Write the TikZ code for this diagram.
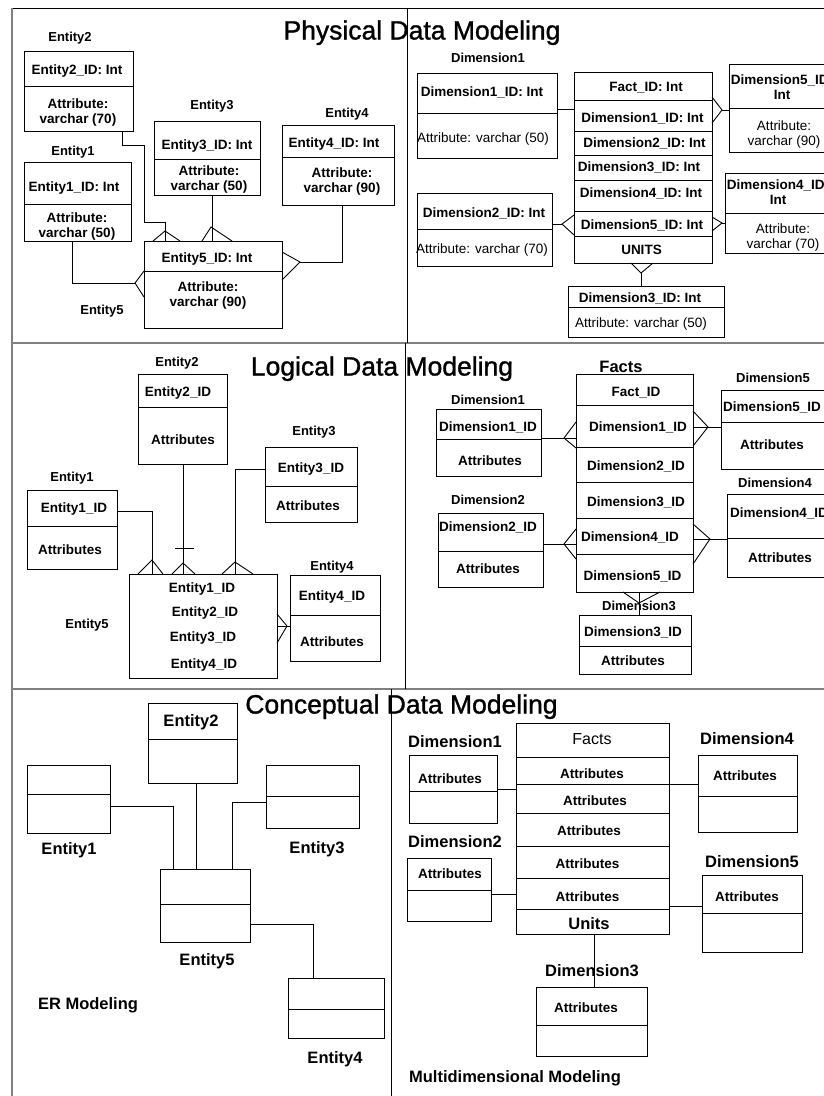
\documentclass[tikz,border=0pt]{standalone}
\usepackage{fontspec}
\setmainfont{Liberation Sans}
\newfontfamily\titlefont{Liberation Sans}[FakeBold=1.2]
% box with corners (x1,y1) and (x2,y2), y measured downwards
\newcommand\erbox[5]{\node[erbox, minimum width={(#4-#2)*1pt}, minimum height={(#5-#3)*1pt}] (#1) at ({(#2+#4)/2},{(#3+#5)/2}) {};}
% horizontal compartment rule across a box
\newcommand\hdiv[2]{\draw[ln] (#1.west |- 0,#2) -- (#1.east |- 0,#2);}
% crow's feet touching a box side: node, apex x, apex y, first end, second end
\newcommand\cfN[5]{\draw[ln] (#4,0 |- #1.north) -- (#2,#3) -- (#5,0 |- #1.north);}
\newcommand\cfS[5]{\draw[ln] (#4,0 |- #1.south) -- (#2,#3) -- (#5,0 |- #1.south);}
\newcommand\cfW[5]{\draw[ln] (0,#4 -| #1.west) -- (#2,#3) -- (0,#5 -| #1.west);}
\newcommand\cfE[5]{\draw[ln] (0,#4 -| #1.east) -- (#2,#3) -- (0,#5 -| #1.east);}
\begin{document}
\begin{tikzpicture}[x=1pt,y=-1pt,
  ln/.style={line width=0.9pt, black},
  frame/.style={line width=1.5pt, black!50},
  rule/.style={line width=0.9pt, black},
  erbox/.style={draw, line width=0.9pt, inner sep=0pt, outer sep=0pt},
  bt/.style={font=\fontsize{13.5}{15}\selectfont\bfseries, inner sep=0pt, text height=9.7pt, text depth=0pt},
  rt/.style={font=\fontsize{13.5}{15}\selectfont, inner sep=0pt, text height=9.7pt, text depth=0pt},
  bm/.style={font=\fontsize{13.5}{15}\selectfont\bfseries, inner sep=0pt, align=center},
  rm/.style={font=\fontsize{13.5}{15}\selectfont, inner sep=0pt, align=center},
  lb/.style={font=\fontsize{13}{15}\selectfont\bfseries, inner sep=0pt, text height=9.4pt, text depth=0pt},
  big/.style={font=\fontsize{16.5}{18}\selectfont\bfseries, inner sep=0pt, text height=11.9pt, text depth=0pt},
  bigr/.style={font=\fontsize{16}{18}\selectfont, inner sep=0pt, text height=11.5pt, text depth=0pt},
  ttl/.style={font=\titlefont\fontsize{26.5}{30}\selectfont, inner sep=0pt, text height=19pt, text depth=0pt},
]
\useasboundingbox (0,0) rectangle (824,1096);
\fill[white] (0,0) rectangle (824,1096);

% ---------- panel frame ----------
\draw[rule] (12,8) -- (840,8);
\draw[frame] (12,8) -- (12,1110);
\draw[frame] (12,343) -- (840,343);
\draw[frame] (12,689) -- (840,689);
\draw[rule] (407,8) -- (407,343);
\draw[rule] (405.5,343) -- (405.5,689);
\draw[rule] (391,689) -- (391,1110);

% ---------- titles ----------
\node[ttl] (t-phys) at (422,30) {Physical Data Modeling};
\node[ttl] (t-log) at (382,366) {Logical Data Modeling};
\node[ttl] (t-con) at (401.5,704) {Conceptual Data Modeling};

% ---------- physical: entity relationship ----------
\node[lb] (pl-e2) at (70,37) {Entity2};
\node[lb] (pl-e3) at (212,105) {Entity3};
\node[lb] (pl-e4) at (347,113) {Entity4};
\node[lb] (pl-e1) at (73,151) {Entity1};
\node[lb] (pl-e5) at (102,310) {Entity5};

\erbox{pe2}{24}{51}{133}{131} \hdiv{pe2}{86}
\node[bt] (pe2-k) at (77,70) {Entity2\_ID: Int};
\node[bm] (pe2-a) at (78,112.4) {Attribute:\\varchar (70)};
\erbox{pe3}{154}{121}{260}{195} \hdiv{pe3}{159}
\node[bt] (pe3-k) at (207,145) {Entity3\_ID: Int};
\node[bm] (pe3-a) at (209,179.9) {Attribute:\\varchar (50)};
\erbox{pe4}{282}{125}{394}{205} \hdiv{pe4}{157}
\node[bt] (pe4-k) at (334,143) {Entity4\_ID: Int};
\node[bm] (pe4-a) at (342,181.4) {Attribute:\\varchar (90)};
\erbox{pe1}{24}{162}{131}{241} \hdiv{pe1}{204}
\node[bt] (pe1-k) at (74,187) {Entity1\_ID: Int};
\node[bm] (pe1-a) at (77,226.9) {Attribute:\\varchar (50)};
\erbox{pe5}{144}{241}{282}{328} \hdiv{pe5}{271}
\node[bt] (pe5-k) at (207,258) {Entity5\_ID: Int};
\node[bm] (pe5-a) at (208,295.4) {Attribute:\\varchar (90)};

\draw[ln] (122,0 |- pe2.south) -- (122,145) -- (144,145) -- (144,222) -- (165,222) -- (165,0 |- pe5.north);
\cfN{pe5}{165}{231}{153}{180}
\draw[ln] (212,0 |- pe3.south) -- (212,0 |- pe5.north);
\cfN{pe5}{211}{227}{202}{232}
\draw[ln] (342,0 |- pe4.south) -- (342,262) -- (300,262);
\cfE{pe5}{300}{262}{252}{280}
\draw[ln] (72,0 |- pe1.south) -- (72,283) -- (135,283);
\cfW{pe5}{135}{283}{271}{297}

% ---------- physical: dimensional ----------
\node[lb] (pd-l1) at (488,58) {Dimension1};
\erbox{pd1}{417}{73}{557}{158} \hdiv{pd1}{113}
\node[bt] (pd1-k) at (482,92) {Dimension1\_ID: Int};
\node[rt] (pd1-a) at (483,138) {Attribute: varchar (50)};

\erbox{pf}{574}{72}{712}{263}
\hdiv{pf}{100} \hdiv{pf}{131} \hdiv{pf}{155} \hdiv{pf}{180} \hdiv{pf}{211} \hdiv{pf}{236}
\node[bt] (pf-0) at (646,87) {Fact\_ID: Int};
\node[bt] (pf-1) at (642.5,118) {Dimension1\_ID: Int};
\node[bt] (pf-2) at (644.5,143) {Dimension2\_ID: Int};
\node[bt] (pf-3) at (639,167) {Dimension3\_ID: Int};
\node[bt] (pf-4) at (641,193) {Dimension4\_ID: Int};
\node[bt] (pf-5) at (642,225) {Dimension5\_ID: Int};
\node[bt] (pf-u) at (641.5,250) {UNITS};

\erbox{pd5}{729}{64}{845}{152} \hdiv{pd5}{108}
\node[bm] (pd5-k) at (782,87.5) {Dimension5\_ID:\\Int};
\node[rm] (pd5-a) at (784,134.9) {Attribute:\\varchar (90)};
\erbox{pd4}{725}{173}{845}{253} \hdiv{pd4}{213}
\node[bm] (pd4-k) at (778,192.5) {Dimension4\_ID:\\Int};
\node[rm] (pd4-a) at (783,237.9) {Attribute:\\varchar (70)};
\erbox{pd2}{417}{193}{552}{266} \hdiv{pd2}{229}
\node[bt] (pd2-k) at (484,213) {Dimension2\_ID: Int};
\node[rt] (pd2-a) at (482,249) {Attribute: varchar (70)};
\erbox{pd3}{568}{286}{724}{337} \hdiv{pd3}{307}
\node[bt] (pd3-k) at (640,298) {Dimension3\_ID: Int};
\node[rt] (pd3-a) at (641,323) {Attribute: varchar (50)};

\draw[ln] (0,109 -| pd1.east) -- (0,109 -| pf.west);
\draw[ln] (722,110) -- (0,110 -| pd5.west);
\cfE{pf}{722}{110}{97}{123}
\draw[ln] (722,223) -- (0,223 -| pd4.west);
\cfE{pf}{722}{223}{217}{231}
\draw[ln] (0,224 -| pd2.east) -- (562,224);
\cfW{pf}{562}{224}{215}{235}
\draw[ln] (641,273) -- (641,0 |- pd3.north);
\cfS{pf}{641}{273}{631}{653}

% ---------- logical: entity relationship ----------
\node[lb] (ll-e2) at (177,362) {Entity2};
\node[lb] (ll-e3) at (314,431) {Entity3};
\node[lb] (ll-e1) at (72,477) {Entity1};
\node[lb] (ll-e5) at (87,624) {Entity5};
\node[lb] (ll-e4) at (332,566) {Entity4};

\erbox{le2}{138}{374}{227}{464} \hdiv{le2}{407}
\node[bt] (le2-k) at (178,392) {Entity2\_ID};
\node[bt] (le2-a) at (183,440) {Attributes};
\erbox{le3}{265}{447}{357}{522} \hdiv{le3}{486}
\node[bt] (le3-k) at (311,468) {Entity3\_ID};
\node[bt] (le3-a) at (308,506) {Attributes};
\erbox{le1}{27}{490}{117}{569} \hdiv{le1}{526}
\node[bt] (le1-k) at (74,508) {Entity1\_ID};
\node[bt] (le1-a) at (70,550) {Attributes};
\erbox{le5}{129}{574}{277}{678}
\node[bt] (le5-1) at (202,588) {Entity1\_ID};
\node[bt] (le5-2) at (205,612) {Entity2\_ID};
\node[bt] (le5-3) at (203,637) {Entity3\_ID};
\node[bt] (le5-4) at (204,664) {Entity4\_ID};
\erbox{le4}{290}{575}{380}{661} \hdiv{le4}{615}
\node[bt] (le4-k) at (332,596) {Entity4\_ID};
\node[bt] (le4-a) at (332,642) {Attributes};

\draw[ln] (0,511 -| le1.east) -- (152,511) -- (152,0 |- le5.north);
\cfN{le5}{152}{560}{138}{163}
\draw[ln] (183,0 |- le2.south) -- (183,0 |- le5.north);
\draw[ln] (175,548) -- (194,548);
\cfN{le5}{183}{563}{172}{195}
\draw[ln] (0,469 -| le3.west) -- (235,469) -- (235,0 |- le5.north);
\cfN{le5}{235}{562}{222}{253}
\draw[ln] (0,626 -| le5.east) -- (0,626 -| le4.west);
\cfE{le5}{287}{626}{614}{643}

% ---------- logical: dimensional ----------
\node[big] (ll-facts) at (621,367) {Facts};
\erbox{lf}{576}{374}{693}{592}
\hdiv{lf}{405} \hdiv{lf}{447} \hdiv{lf}{482} \hdiv{lf}{518} \hdiv{lf}{554}
\node[bt] (lf-0) at (636,392) {Fact\_ID};
\node[bt] (lf-1) at (638,427) {Dimension1\_ID};
\node[bt] (lf-2) at (636,466) {Dimension2\_ID};
\node[bt] (lf-3) at (636,502) {Dimension3\_ID};
\node[bt] (lf-4) at (630,537) {Dimension4\_ID};
\node[bt] (lf-5) at (632.5,576) {Dimension5\_ID};

\node[lb] (ld-l1) at (488,400) {Dimension1};
\erbox{ld1}{436}{409}{541}{476} \hdiv{ld1}{439}
\node[bt] (ld1-k) at (488,427) {Dimension1\_ID};
\node[bt] (ld1-a) at (490,461) {Attributes};
\node[lb] (ld-l2) at (488,500) {Dimension2};
\erbox{ld2}{438}{513}{543}{587} \hdiv{ld2}{551}
\node[bt] (ld2-k) at (488,527) {Dimension2\_ID};
\node[bt] (ld2-a) at (488,569) {Attributes};
\node[lb] (ld-l5) at (773,378) {Dimension5};
\erbox{ld5}{721}{390}{845}{469} \hdiv{ld5}{422}
\node[bt] (ld5-k) at (772,407) {Dimension5\_ID};
\node[bt] (ld5-a) at (772,445) {Attributes};
\node[lb] (ld-l4) at (775,483) {Dimension4};
\erbox{ld4}{727}{494}{845}{577} \hdiv{ld4}{538}
\node[bt] (ld4-k) at (779,513) {Dimension4\_ID};
\node[bt] (ld4-a) at (780,558) {Attributes};
\node[lb] (ld-l3) at (639,606) {Dimension3};
\erbox{ld3}{579}{615}{691}{674} \hdiv{ld3}{646}
\node[bt] (ld3-k) at (633,632) {Dimension3\_ID};
\node[bt] (ld3-a) at (633,661) {Attributes};

\draw[ln] (0,438 -| ld1.east) -- (0,438 -| lf.west);
\cfW{lf}{564}{438}{422}{448}
\draw[ln] (0,544 -| ld2.east) -- (0,544 -| lf.west);
\cfW{lf}{564}{544}{529}{559}
\draw[ln] (0,427 -| lf.east) -- (0,427 -| ld5.west);
\cfE{lf}{708}{427}{411}{446}
\draw[ln] (0,539 -| lf.east) -- (0,539 -| ld4.west);
\cfE{lf}{710}{539}{524}{564}
\draw[ln] (639,0 |- lf.south) -- (639,0 |- ld3.north);
\cfS{lf}{639}{603}{623}{660}

% ---------- conceptual: ER modeling ----------
\erbox{ce2}{148}{703}{237}{783} \hdiv{ce2}{739}
\node[big] (ce2-k) at (191,721) {Entity2};
\erbox{ce1}{27}{765}{110}{833} \hdiv{ce1}{794}
\node[big] (cl-e1) at (69,849) {Entity1};
\erbox{ce3}{266}{765}{359}{828} \hdiv{ce3}{796}
\node[big] (cl-e3) at (317,848) {Entity3};
\erbox{ce5}{160}{869}{250}{942} \hdiv{ce5}{904}
\node[big] (cl-e5) at (207,960) {Entity5};
\erbox{ce4}{288}{978}{384}{1038} \hdiv{ce4}{1009}
\node[big] (cl-e4) at (335,1058) {Entity4};
\node[big] (cl-er) at (88,1004) {ER Modeling};

\draw[ln] (0,806 -| ce1.east) -- (173,806) -- (173,0 |- ce5.north);
\draw[ln] (196,0 |- ce2.south) -- (196,0 |- ce5.north);
\draw[ln] (0,802 -| ce3.west) -- (232,802) -- (232,0 |- ce5.north);
\draw[ln] (0,924 -| ce5.east) -- (313,924) -- (313,0 |- ce4.north);

% ---------- conceptual: multidimensional modeling ----------
\erbox{cf}{516}{723}{669}{934}
\hdiv{cf}{757} \hdiv{cf}{784} \hdiv{cf}{813} \hdiv{cf}{846} \hdiv{cf}{878} \hdiv{cf}{909}
\node[bigr] (cf-t) at (592,739) {Facts};
\node[bt] (cf-1) at (592,774) {Attributes};
\node[bt] (cf-2) at (595,801) {Attributes};
\node[bt] (cf-3) at (589,831) {Attributes};
\node[bt] (cf-4) at (587.5,864) {Attributes};
\node[bt] (cf-5) at (587.5,897) {Attributes};
\node[big] (cf-u) at (589,924) {Units};

\node[big] (cd-l1) at (455,742) {Dimension1};
\erbox{cd1}{409}{755}{497}{823} \hdiv{cd1}{791}
\node[bt] (cd1-a) at (450,779) {Attributes};
\node[big] (cd-l2) at (455,842) {Dimension2};
\erbox{cd2}{407}{858}{491}{921} \hdiv{cd2}{890}
\node[bt] (cd2-a) at (450,874) {Attributes};
\node[big] (cd-l4) at (747,739) {Dimension4};
\erbox{cd4}{698}{755}{797}{832} \hdiv{cd4}{796}
\node[bt] (cd4-a) at (745,776) {Attributes};
\node[big] (cd-l5) at (752,862) {Dimension5};
\erbox{cd5}{702}{875}{802}{952} \hdiv{cd5}{913}
\node[bt] (cd5-a) at (747,897) {Attributes};
\node[big] (cd-l3) at (592,971) {Dimension3};
\erbox{cd3}{536}{987}{647}{1056} \hdiv{cd3}{1025}
\node[bt] (cd3-a) at (586,1008) {Attributes};
\node[big] (cd-md) at (515,1077) {Multidimensional Modeling};

\draw[ln] (0,789 -| cd1.east) -- (0,789 -| cf.west);
\draw[ln] (0,894 -| cd2.east) -- (0,894 -| cf.west);
\draw[ln] (0,784 -| cf.east) -- (0,784 -| cd4.west);
\draw[ln] (0,906 -| cf.east) -- (0,906 -| cd5.west);
\draw[ln] (594,0 |- cf.south) -- (594,0 |- cd3.north);
\end{tikzpicture}
\end{document}
